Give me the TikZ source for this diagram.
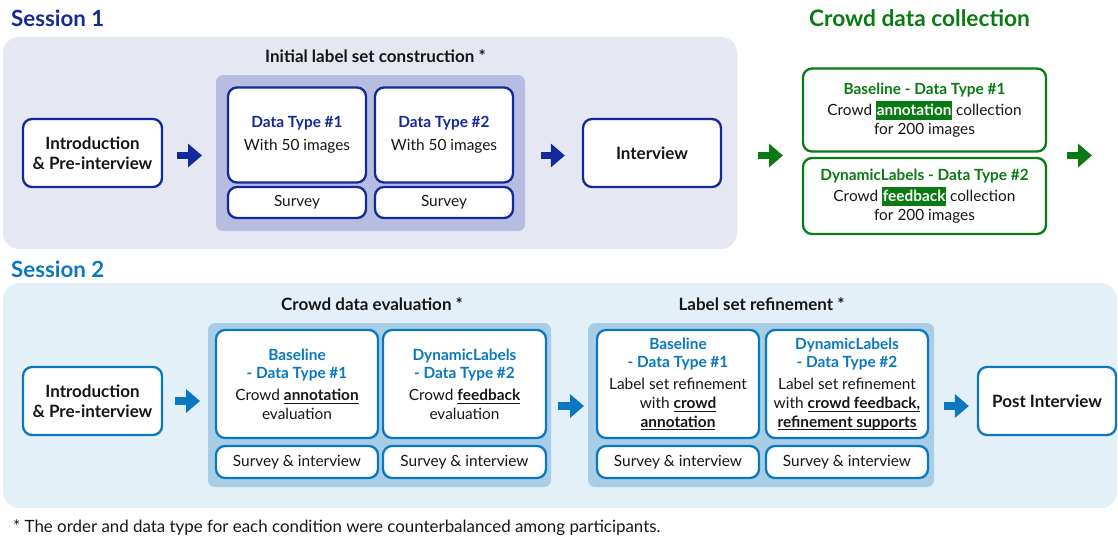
\documentclass[tikz,border=0pt]{standalone}
\usepackage{fontspec}
\setmainfont{Lato}
\usetikzlibrary{arrows.meta}
\definecolor{dblue}{HTML}{15289A}
\definecolor{bgone}{HTML}{E5E7F3}
\definecolor{grpone}{HTML}{B7BDE1}
\definecolor{cgreen}{HTML}{0A7A12}
\definecolor{lblue}{HTML}{0A78C0}
\definecolor{bgtwo}{HTML}{E4F0F8}
\definecolor{grptwo}{HTML}{A8CDE6}
\definecolor{txt}{HTML}{161616}
\newsavebox\ulbox
\newcommand\ttlA[1]{\textcolor{dblue}{\bfseries #1}}
\newcommand\ttlB[1]{\textcolor{lblue}{\bfseries #1}}
\newcommand\ttlG[1]{\textcolor{cgreen}{\bfseries #1}}
\newcommand\hlg[1]{{\setlength{\fboxsep}{0.6pt}\colorbox{cgreen}{\rule[-3.6pt]{0pt}{17.6pt}\textcolor{white}{\bfseries #1}}}}
\newcommand\ubf[1]{\sbox\ulbox{\bfseries #1}\rlap{\usebox\ulbox}\rule[-3.2pt]{\wd\ulbox}{1pt}}
\tikzset{
  bx/.style={draw, rounded corners=9pt, line width=2.3pt, fill=white, align=center,
    inner sep=0pt, text=txt, font=\fontsize{15.4}{18.6}\selectfont},
  bxA/.style={bx, draw=dblue},
  bxB/.style={bx, draw=lblue},
  bxG/.style={bx, draw=cgreen},
  bigtxt/.style={font=\fontsize{17}{20}\selectfont\bfseries},
  sectitle/.style={anchor=base west, inner sep=0pt, font=\fontsize{22.3}{26}\selectfont\bfseries},
  grptitle/.style={anchor=base, inner sep=0pt, text=txt, font=\fontsize{17}{20}\selectfont\bfseries},
  arrA/.style={line width=7.5pt, draw=dblue, -{Triangle[length=14pt,width=23pt]}},
  arrB/.style={line width=7.5pt, draw=lblue, -{Triangle[length=14pt,width=23pt]}},
  arrG/.style={line width=7.5pt, draw=cgreen, -{Triangle[length=14pt,width=23pt]}},
}
\begin{document}
\begin{tikzpicture}[x=1pt,y=-1pt]
\useasboundingbox (0,0) rectangle (1118,538);
% ---------------- Session 1 ----------------
\node[sectitle, text=dblue] (s1title) at (11,26) {Session 1};
\fill[bgone, rounded corners=16pt] (3,37) rectangle (737,249);
\node[grptitle] (ilsc) at (375.5,62) {Initial label set construction *};
\fill[grpone, rounded corners=7pt] (216,75) rectangle (525,231);
\coordinate (grp1w) at (216,153);
\coordinate (grp1e) at (525,153);
\node[bxA, minimum width=139pt, minimum height=68pt, bigtxt] (intro1) at (92.5,153) {Introduction\\\& Pre-interview};
\node[bxA, minimum width=138pt, minimum height=95pt] (dt1) at (297,135) {\ttlA{Data Type \#1}\\[4.5pt]With 50 images};
\node[bxA, minimum width=138pt, minimum height=95pt] (dt2) at (444,135) {\ttlA{Data Type \#2}\\[4.5pt]With 50 images};
\node[bxA, minimum width=138pt, minimum height=31pt] (sv1) at (297,202.5) {Survey};
\node[bxA, minimum width=138pt, minimum height=31pt] (sv2) at (444,202.5) {Survey};
\node[bxA, minimum width=138pt, minimum height=68pt, bigtxt] (interview) at (652,153) {Interview};
\draw[arrA] ([xshift=14pt,yshift=-2.5pt]intro1.east) -- ([xshift=-14pt,yshift=-2.5pt]grp1w);
\draw[arrA] ([xshift=16pt,yshift=-2.5pt]grp1e) -- ([xshift=-17pt,yshift=-2.5pt]interview.west);
% ---------------- Crowd data collection ----------------
\node[sectitle, anchor=base, text=cgreen, font=\fontsize{22.7}{26}\selectfont\bfseries] (cdctitle) at (919.5,26) {Crowd data collection};
\node[bxG, minimum width=243pt, minimum height=83pt] (cb1) at (924.5,110)
  {\ttlG{Baseline - Data Type \#1}\\[3pt]Crowd \hlg{annotation} collection\\for 200 images};
\node[bxG, minimum width=243pt, minimum height=76pt] (cb2) at (924.5,196)
  {\ttlG{DynamicLabels - Data Type \#2}\\[3pt]Crowd \hlg{feedback} collection\\for 200 images};
\coordinate (cdcw) at (803,153);
\coordinate (cdce) at (1046,153);
\coordinate (gend) at (1092,153);
\draw[arrG] ([xshift=36pt,yshift=-2.5pt]interview.east) -- ([xshift=-20pt,yshift=-2.5pt]cdcw);
\draw[arrG] ([xshift=21pt,yshift=-2.5pt]cdce) -- ([yshift=-2.5pt]gend);
% ---------------- Session 2 ----------------
\node[sectitle, text=lblue] (s2title) at (11,277) {Session 2};
\fill[bgtwo, rounded corners=16pt] (3,283) rectangle (1117,508);
\node[grptitle] (cde) at (372,310) {Crowd data evaluation *};
\node[grptitle] (lsr) at (761.5,310) {Label set refinement *};
\fill[grptwo, rounded corners=7pt] (208,323) rectangle (551,487);
\fill[grptwo, rounded corners=7pt] (588,323) rectangle (934,487);
\coordinate (grp2w) at (208,401);
\coordinate (grp2e) at (551,401);
\coordinate (grp3w) at (588,401);
\coordinate (grp3e) at (934,401);
\node[bxB, minimum width=139pt, minimum height=68pt, bigtxt] (intro2) at (92.5,401) {Introduction\\\& Pre-interview};
\node[bxB, minimum width=162pt, minimum height=108pt] (eb1) at (297,384)
  {\ttlB{Baseline}\\\ttlB{- Data Type \#1}\\[3.5pt]Crowd \ubf{annotation}\\evaluation};
\node[bxB, minimum width=163pt, minimum height=108pt] (ed2) at (464.5,384)
  {\ttlB{DynamicLabels}\\\ttlB{- Data Type \#2}\\[3.5pt]Crowd \ubf{feedback}\\evaluation};
\node[bxB, minimum width=162pt, minimum height=32pt] (esv1) at (297,462) {Survey \& interview};
\node[bxB, minimum width=163pt, minimum height=32pt] (esv2) at (464.5,462) {Survey \& interview};
\node[bxB, minimum width=162pt, minimum height=108pt] (rb1) at (678,384)
  {\ttlB{Baseline}\\\ttlB{- Data Type \#1}\\[3.5pt]Label set refinement\\with \ubf{crowd}\\\ubf{annotation}};
\node[bxB, minimum width=162pt, minimum height=108pt] (rd2) at (847,384)
  {\ttlB{DynamicLabels}\\\ttlB{- Data Type \#2}\\[3.5pt]Label set refinement\\with \ubf{crowd feedback,}\\\ubf{refinement supports}};
\node[bxB, minimum width=162pt, minimum height=32pt] (rsv1) at (678,462) {Survey \& interview};
\node[bxB, minimum width=162pt, minimum height=32pt] (rsv2) at (847,462) {Survey \& interview};
\node[bxB, minimum width=138pt, minimum height=68pt, bigtxt] (post) at (1047,401) {Post Interview};
\draw[arrB] ([xshift=12pt]intro2.east) -- ([xshift=-8pt]grp2w);
\draw[arrB] ([xshift=7pt,yshift=-5pt]grp2e) -- ([xshift=-4pt,yshift=-5pt]grp3w);
\draw[arrB] ([xshift=10pt,yshift=-5pt]grp3e) -- ([xshift=-8pt,yshift=-5pt]post.west);
% ---------------- footnote ----------------
\node[anchor=base west, inner sep=0pt, text=txt, font=\fontsize{16.9}{19}\selectfont] (foot) at (13,532)
  {* The order and data type for each condition were counterbalanced among participants.};
\end{tikzpicture}
\end{document}
